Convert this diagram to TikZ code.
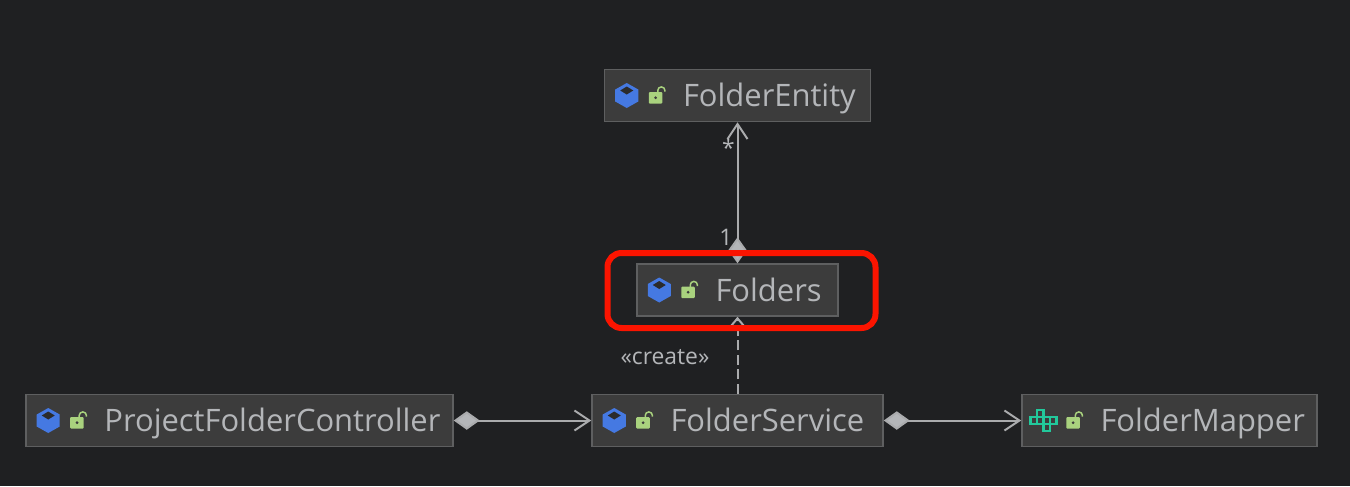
\documentclass[tikz,border=0pt]{standalone}
\usepackage{fontspec}
\setmainfont{Open Sans}
\usetikzlibrary{arrows.meta}
\definecolor{pagebg}{HTML}{1F2022}
\definecolor{boxbg}{HTML}{3C3C3C}
\definecolor{boxline}{HTML}{5E5F60}
\definecolor{ink}{HTML}{B4B6B9}
\definecolor{edgeline}{HTML}{AAABAD}
\definecolor{cubeblue}{HTML}{4579E2}
\definecolor{lockgreen}{HTML}{A9D27E}
\definecolor{ifaceteal}{HTML}{22C89B}
\definecolor{markred}{HTML}{FB1400}
\tikzstyle{cls}=[draw=boxline, fill=boxbg, line width=0.03cm, text=ink, minimum height=1.04cm, inner xsep=0pt, inner ysep=0pt, text height=0.58cm, text depth=0.13cm, align=flush left, font=\fontsize{17.6pt}{20pt}\selectfont, execute at begin node={\hspace*{1.57cm}}]
\tikzstyle{hilite}=[draw=markred, line width=0.12cm, rounded corners=0.28cm, minimum width=5.36cm, minimum height=1.5cm]
\tikzstyle{lbl}=[text=ink, inner sep=0pt, font=\fontsize{13pt}{15pt}\selectfont]
\tikzstyle{assoc}=[draw=edgeline, line width=0.04cm, {Diamond[length=0.52cm,width=0.37cm,fill=ink]}-{Straight Barb[length=0.3cm,width=0.4cm]}]
\tikzstyle{dep}=[draw=edgeline, line width=0.04cm, dash pattern=on 0.2cm off 0.09cm, -{Straight Barb[length=0.16cm,width=0.27cm]}]
\tikzset{
  every pic/.style={x=0.02cm,y=0.02cm},
  cube/.pic={
    \fill[cubeblue] (0,12.5) -- (11.5,6) -- (11.5,-6) -- (0,-12.5) -- (-11.5,-6) -- (-11.5,6) -- cycle;
    \fill[pagebg!60!boxbg] (0,9) -- (6.5,5) -- (0,1) -- (-6.5,5) -- cycle;
  },
  lock/.pic={
    \fill[lockgreen, rounded corners=0.02cm] (-7,-8) rectangle (6.5,3.5);
    \draw[lockgreen, line width=0.03cm] (2,3) -- (2,5) arc (180:0:3.6) -- (9.2,4);
    \fill[boxbg] (-0.2,-2.2) circle (1.5);
  },
  iface/.pic={
    \draw[ifaceteal, line width=0.05cm] (-13,-3.5) rectangle ++(6.5,7) (-6.5,-3.5) rectangle ++(6.5,7) (0,-3.5) rectangle ++(6.5,7) (6.5,-3.5) rectangle ++(6.5,7) (-6.5,3.5) rectangle ++(6.5,7) (0,-10.5) rectangle ++(6.5,7);
  }
}
\begin{document}
\begin{tikzpicture}[node distance=2cm]
  \useasboundingbox[fill=pagebg] (-14.75,-3.92) rectangle (12.25,5.8);

  \node[cls, text width=4.02cm] at (0,0) (folders) {Folders};
  \node[cls, text width=5.32cm, above of = folders, node distance = 3.89cm] (entity) {FolderEntity};
  \node[cls, text width=5.82cm, below of = folders, node distance = 2.61cm] (service) {FolderService};
  \node[cls, text width=8.54cm, left of = service, node distance = 9.96cm] (controller) {ProjectFolderController};
  \node[cls, text width=5.9cm, right of = service, node distance = 8.64cm] (mapper) {FolderMapper};

  \pic at ([xshift=0.46cm]entity.west) {cube};
  \pic at ([xshift=1.04cm]entity.west) {lock};
  \pic at ([xshift=0.46cm]folders.west) {cube};
  \pic at ([xshift=1.04cm]folders.west) {lock};
  \pic at ([xshift=0.46cm]service.west) {cube};
  \pic at ([xshift=1.04cm]service.west) {lock};
  \pic at ([xshift=0.46cm]controller.west) {cube};
  \pic at ([xshift=1.04cm]controller.west) {lock};
  \pic at ([xshift=0.44cm]mapper.west) {iface};
  \pic at ([xshift=1.04cm]mapper.west) {lock};

  \draw[assoc] (folders) -- (entity);
  \draw[assoc] (controller) -- (service);
  \draw[assoc] (service) -- (mapper);
  \draw[dep] (service) -- (folders);

  \node[lbl, left of = entity, xshift=1.82cm, yshift=-1.05cm] (many) {*};
  \node[lbl, above of = folders, xshift=-0.23cm, yshift=-0.94cm] (one) {1};
  \node[lbl, below of = folders, xshift=-1.45cm, yshift=0.66cm] (create) {«create»};

  \node[hilite, xshift=0.08cm, yshift=-0.01cm] at (folders) (focus) {};
\end{tikzpicture}
\end{document}
